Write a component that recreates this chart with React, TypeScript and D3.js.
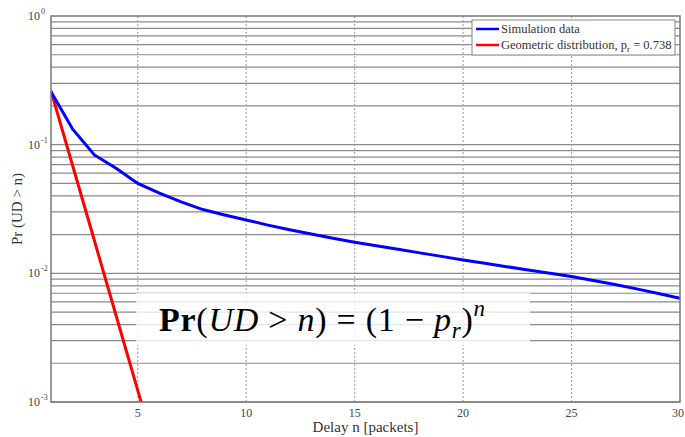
import * as d3 from 'd3';

// delay n in packets
const delays = d3.range(1, 31);
// simulation data
const simulation = [
  0.258, 0.132, 0.0832, 0.0656, 0.05, 0.042, 0.0359, 0.0313, 0.0284, 0.026,
  0.0237, 0.0218, 0.0202, 0.01875, 0.01746, 0.01637, 0.01538, 0.01442, 0.01355, 0.01271,
  0.01197, 0.01127, 0.01062, 0.01, 0.00944, 0.00881, 0.00818, 0.00757, 0.00697, 0.0064,
];
// geometric distribution, p_r = 0.738
const geoDelays = [1, 2, 3, 4, 5, 6];
const geometric = [0.262, 0.0686, 0.018, 0.0047, 0.00123, 0.00032];

const xTicks = [5, 10, 15, 20, 25, 30];
const yTickExps = [0, -1, -2, -3];
const legendLabels = ['Simulation data', 'Geometric distribution, p'];

const W = 685;
const H = 437;
const m = { left: 51, right: 5, top: 16, bottom: 35 };
const SERIF = 'Liberation Serif';

export default function App() {
  const x = d3.scaleLinear().domain([1, 30]).range([m.left, W - m.right]);
  const y = d3.scaleLog().domain([1e-3, 1]).range([H - m.bottom, m.top]);

  const minor: number[] = [];
  yTickExps.slice(0, 3).forEach((e) => {
    for (let k = 1; k < 10; k++) minor.push(k * Math.pow(10, e - 1));
  });

  const line = d3
    .line<[number, number]>()
    .x((d) => x(d[0]))
    .y((d) => y(d[1]));

  const simPts = delays.map((d, i) => [d, simulation[i]] as [number, number]);
  const geoPts = geoDelays.map((d, i) => [d, geometric[i]] as [number, number]);

  const [x0, x1] = x.range();
  const [yb, yt] = y.range();

  return (
    <svg
      width={W}
      height={H}
      style={{ position: 'absolute', left: 0, top: 0, background: '#fff' }}
    >
      <defs>
        <clipPath id="plot">
          <rect x={x0} y={yt} width={x1 - x0} height={yb - yt} />
        </clipPath>
      </defs>
      <rect x={x0} y={yt} width={x1 - x0} height={yb - yt} fill="#fff" />
      {minor.map((v, i) => (
        <line key={'h' + i} x1={x0} x2={x1} y1={y(v)} y2={y(v)} stroke="#8a8a8a" strokeWidth={1.2} />
      ))}
      {xTicks.slice(0, 5).map((t) => (
        <line key={'v' + t} x1={x(t)} x2={x(t)} y1={yt} y2={yb} stroke="#999" strokeWidth={1} strokeDasharray="2,2" />
      ))}
      <g clipPath="url(#plot)">
        <path d={line(geoPts) ?? ''} fill="none" stroke="#ff0000" strokeWidth={3} />
        <path d={line(simPts) ?? ''} fill="none" stroke="#0000ff" strokeWidth={3} />
      </g>
      <rect x={x0} y={yt} width={x1 - x0} height={yb - yt} fill="none" stroke="#777" strokeWidth={1.5} />

      {/* legend */}
      <g transform="translate(472,20)">
        <rect width={203} height={35} fill="#fff" stroke="#888" strokeWidth={1} />
        {legendLabels.map((lab, i) => (
          <g key={lab} transform={`translate(0,${9 + i * 16})`}>
            <line x1={4} x2={27} y1={0} y2={0} stroke={i === 0 ? '#0000ff' : '#ff0000'} strokeWidth={2.5} />
            <text x={29} y={4} fontSize={12.5} fill="#333" fontFamily={SERIF}>
              {lab}
              {i === 1 && (
                <>
                  <tspan dy={3} fontSize={9}>r</tspan>
                  <tspan dy={-3}> = 0.738</tspan>
                </>
              )}
            </text>
          </g>
        ))}
      </g>

      {/* y ticks */}
      {yTickExps.map((e) => (
        <text key={'yt' + e} x={40} y={y(Math.pow(10, e)) + 4} fontSize={12} textAnchor="end" fill="#444" fontFamily={SERIF}>
          10
          <tspan x={41} dy={-6} fontSize={8} textAnchor="start">
            {e === 0 ? '0' : '-' + -e}
          </tspan>
        </text>
      ))}
      {/* x ticks */}
      {xTicks.map((t) => (
        <text key={'xt' + t} x={t === 30 ? x(t) + 4 : x(t)} y={yb + 15} fontSize={12} textAnchor={t === 30 ? 'end' : 'middle'} fill="#444" fontFamily={SERIF}>
          {t}
        </text>
      ))}
      <text x={(x0 + x1) / 2} y={H - 5} fontSize={15} textAnchor="middle" fill="#333" fontFamily={SERIF}>
        Delay n [packets]
      </text>
      <text transform={`translate(22,${(yt + yb) / 2}) rotate(-90)`} fontSize={15} textAnchor="middle" fill="#333" fontFamily={SERIF}>
        Pr (UD &gt; n)
      </text>

      {/* formula overlay */}
      <rect x={136} y={293} width={394} height={52} fill="#fff" opacity={0.8} />
      <text x={159} y={331} fontSize={34} fill="#000" fontFamily={SERIF} textLength={326} lengthAdjust="spacing">
        <tspan fontWeight="bold">Pr</tspan>
        <tspan>(</tspan>
        <tspan fontStyle="italic">UD</tspan>
        <tspan> &gt; </tspan>
        <tspan fontStyle="italic">n</tspan>
        <tspan>) = (1 − </tspan>
        <tspan fontStyle="italic">p</tspan>
        <tspan fontStyle="italic" fontSize={23} dy={7}>r</tspan>
        <tspan dy={-7}>)</tspan>
        <tspan fontStyle="italic" fontSize={23} dy={-15}>n</tspan>
      </text>
    </svg>
  );
}
